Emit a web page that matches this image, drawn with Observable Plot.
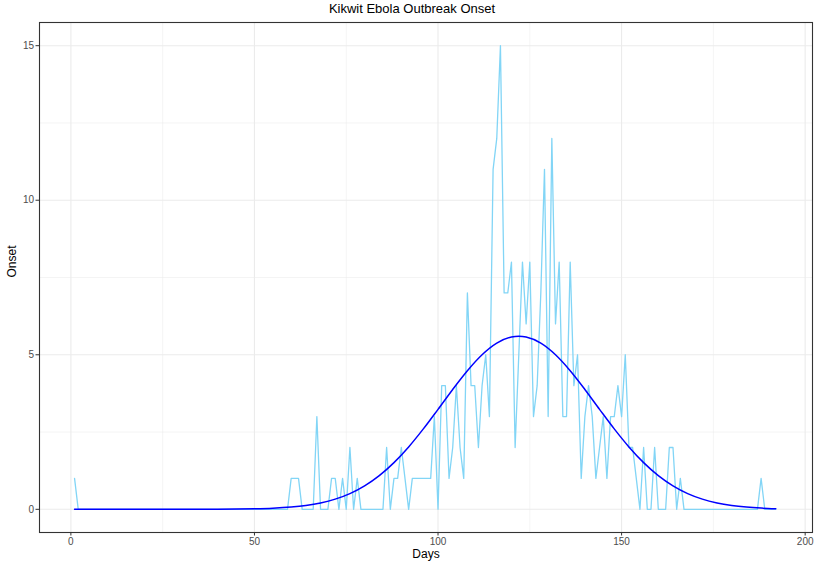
<!DOCTYPE html>
<html>
<head>
<meta charset="utf-8">
<script src="https://cdn.jsdelivr.net/npm/d3@7"></script>
<script src="https://cdn.jsdelivr.net/npm/@observablehq/plot@0.6"></script>
<style>
  html, body { margin: 0; padding: 0; background: #ffffff; }
  body { width: 814px; height: 562px; overflow: hidden; font-family: "Liberation Sans", Arial, Helvetica, sans-serif; }
  #title { height: 18px; line-height: 18px; font-size: 13px; color: #000; text-align: center; padding-left: 10px; box-sizing: border-box; width: 814px; }
  #chart svg { display: block; }
</style>
</head>
<body>
<div id="title">Kikwit Ebola Outbreak Onset</div>
<div id="chart"></div>
<script>
// Daily onset counts, days 1..192
const firstDay = 1;
const onsetCounts = [
  1,0,0,0,0,0,0,0,0,0,        // 1-10
  0,0,0,0,0,0,0,0,0,0,        // 11-20
  0,0,0,0,0,0,0,0,0,0,        // 21-30
  0,0,0,0,0,0,0,0,0,0,        // 31-40
  0,0,0,0,0,0,0,0,0,0,        // 41-50
  0,0,0,0,0,0,0,0,0,1,        // 51-60
  1,1,0,0,0,0,3,0,0,0,        // 61-70
  1,1,0,1,0,2,0,1,0,0,        // 71-80
  0,0,0,0,0,2,0,1,1,2,        // 81-90
  1,0,1,1,1,1,1,1,3,0,        // 91-100
  4,4,1,2,4,2,1,7,4,4,        // 101-110
  2,4,5,3,11,12,15,7,7,8,     // 111-120
  2,5,8,6,8,3,4,7,11,3,       // 121-130
  12,6,8,3,3,8,4,5,1,3,       // 131-140
  4,3,1,2,3,1,3,3,4,3,        // 141-150
  5,2,2,1,0,2,0,0,2,0,        // 151-160
  0,0,2,2,0,1,0,0,0,0,        // 161-170
  0,0,0,0,0,0,0,0,0,0,        // 171-180
  0,0,0,0,0,0,0,1,0,0,        // 181-190
  0,0                         // 191-192
];

// Fitted curve at selected days
const fitDays   = [1, 40, 50, 55, 60, 64, 68, 72, 76, 80, 84, 88, 92, 96, 100, 104, 108, 112, 116, 120, 122, 124, 128, 132, 136, 140, 144, 148, 152, 156, 160, 164, 168, 172, 176, 180, 184, 188, 192];
const fitValues = [0, 0.003, 0.016, 0.034, 0.072, 0.124, 0.206, 0.329, 0.508, 0.758, 1.089, 1.510, 2.018, 2.602, 3.235, 3.879, 4.484, 5.000, 5.376, 5.575, 5.600, 5.575, 5.376, 5.000, 4.484, 3.879, 3.235, 2.602, 2.018, 1.510, 1.089, 0.758, 0.508, 0.329, 0.206, 0.124, 0.072, 0.040, 0.022];

const xTicks = [0, 50, 100, 150, 200];
const xMinor = [25, 75, 125, 175];
const yTicks = [0, 5, 10, 15];
const yMinor = [2.5, 7.5, 12.5];
const xTitle = "Days";
const yTitle = "Onset";

const onset = onsetCounts.map((v, i) => ({day: firstDay + i, onset: v}));
const fit = fitDays.map((d, i) => ({day: d, value: fitValues[i]}));

const gridColor = "#ebebeb";
const font = "Liberation Sans, Arial, Helvetica, sans-serif";

const chart = Plot.plot({
  width: 814,
  height: 544,
  marginLeft: 39,
  marginRight: 2,
  marginTop: 4,
  marginBottom: 30,
  style: {fontFamily: font, background: "#ffffff"},
  x: {domain: [-8.55, 202]},
  y: {domain: [-0.75, 15.75]},
  marks: [
    Plot.gridX(xMinor, {stroke: gridColor, strokeOpacity: 1, strokeWidth: 0.55}),
    Plot.gridY(yMinor, {stroke: gridColor, strokeOpacity: 1, strokeWidth: 0.55}),
    Plot.gridX(xTicks, {stroke: gridColor, strokeOpacity: 1, strokeWidth: 1.1}),
    Plot.gridY(yTicks, {stroke: gridColor, strokeOpacity: 1, strokeWidth: 1.1}),
    Plot.line(onset, {x: "day", y: "onset", stroke: "#82d5f6", strokeWidth: 1.3}),
    Plot.line(fit, {x: "day", y: "value", stroke: "#0000ff", strokeWidth: 1.5, curve: "monotone-x"}),
    Plot.frame({stroke: "#333333", strokeWidth: 1.1}),
    Plot.axisX(xTicks, {tickSize: 3.5, tickPadding: 2, fontSize: 10, fill: "#4d4d4d", stroke: "#333333", label: null}),
    Plot.axisY(yTicks, {tickSize: 3.5, tickPadding: 2, fontSize: 10, fill: "#4d4d4d", stroke: "#333333", label: null}),
    Plot.text([xTitle], {frameAnchor: "bottom", dy: 25, text: d => d, fontSize: 12, fill: "#000"}),
    Plot.text([yTitle], {frameAnchor: "left", dx: -27, rotate: -90, text: d => d, fontSize: 12, fill: "#000"})
  ]
});
document.getElementById("chart").appendChild(chart);
</script>
</body>
</html>
